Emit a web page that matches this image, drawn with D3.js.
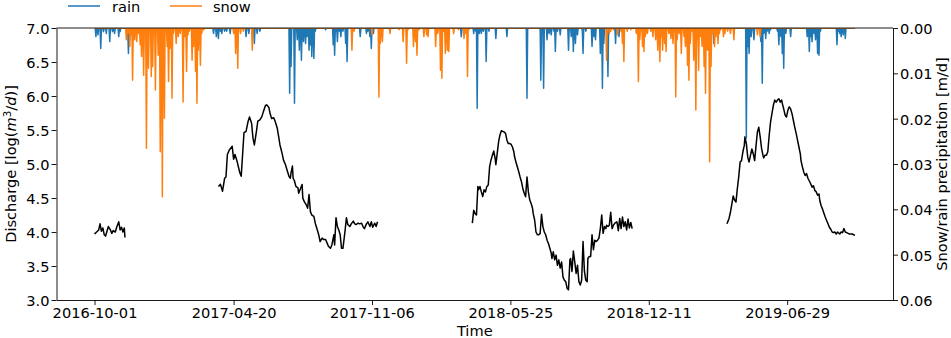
<!DOCTYPE html>
<html>
<head>
<meta charset="utf-8">
<script src="https://cdn.jsdelivr.net/npm/d3@7"></script>
<style>
body{margin:0;background:#fff}
svg{display:block;font-family:"DejaVu Sans",sans-serif}
</style>
</head>
<body>
<svg width="951" height="338"></svg>
<script>
// day offsets are counted from 2016-10-01
var startDate = new Date(Date.UTC(2016, 9, 1));
var nDays = 1100;

var xTickLabels = ['2016-10-01','2017-04-20','2017-11-06','2018-05-25','2018-12-11','2019-06-29'];
var leftTicks = [3.0,3.5,4.0,4.5,5.0,5.5,6.0,6.5,7.0];
var rightTicks = [0.00,0.01,0.02,0.03,0.04,0.05,0.06];

// discharge, log(m3/d), four pieces with gaps between
var q1Days = [0,1,3,6,8,10,12,14,16,18,20,23,25,27,30,32,35,37,39,41,43,44];
var q1Vals = [3.97,3.98,4.00,4.03,4.12,4.01,4.06,3.96,3.94,4.01,4.08,4.03,3.98,4.02,4.00,4.07,4.15,4.03,4.07,4.00,4.06,3.92];

var q2Days = [179,182,185,188,190,192,195,199,201,203,206,210,212,214,216,219,222,224,227,229,
231,234,236,239,242,244,247,249,252,254,256,259,261,264,266,268,271,273,276,278,
281,283,284,286,287,289,291,294,295,297,300,301,303,306,308,310,312,314,317,319,
322,324,326,329,331,334,336,338,341,343,346,347,349,351,353,355,357,359,362,364,
366,369,371,374,376,378,381,383,386,388,390,393,395,398,400,402,405,407,409];
var q2Vals = [4.67,4.70,4.60,4.79,4.81,5.14,5.21,5.26,5.07,5.14,5.04,4.87,4.82,5.14,5.46,5.48,5.63,5.69,5.60,5.38,
5.28,5.48,5.63,5.65,5.70,5.77,5.86,5.87,5.83,5.73,5.67,5.68,5.63,5.53,5.41,5.28,5.16,5.06,4.99,4.92,
4.82,4.79,4.87,4.97,4.79,4.75,4.67,4.65,4.57,4.62,4.70,4.50,4.45,4.40,4.35,4.55,4.30,4.25,4.23,4.13,
4.03,3.96,3.86,3.91,3.89,3.89,3.84,3.79,3.76,3.81,3.96,3.81,4.21,4.08,4.03,3.96,3.76,3.76,4.01,4.21,
4.11,4.08,4.12,4.16,4.12,4.11,4.13,4.12,4.13,4.08,4.05,4.12,4.15,4.08,4.15,4.07,4.13,4.08,4.15];

var q3Days = [546,548,550,552,554,555,557,559,561,563,565,567,569,571,573,575,577,579,580,582,
584,586,588,590,592,594,596,598,600,602,604,606,607,609,611,613,615,617,619,621,
623,625,627,629,631,633,634,636,638,640,642,644,646,648,650,652,654,656,658,660,
661,663,665,667,669,671,673,675,677,679,681,683,685,687,688,690,692,694,696,698,
700,702,704,706,708,710,712,713,715,717,719,721,723,725,727,729,731,733,735,737,
739,740,742,744,746,748,750,752,755,757,759,761,763,765,767,769,771,773,775,777];
var q3Vals = [4.13,4.32,4.27,4.25,4.67,4.62,4.67,4.59,4.52,4.62,4.59,4.67,4.69,4.96,5.06,5.13,5.19,5.08,4.99,5.16,
5.33,5.43,5.49,5.48,5.47,5.45,5.35,5.30,5.30,5.29,5.25,5.18,5.11,5.03,4.96,4.89,4.81,4.74,4.64,4.57,
4.52,4.81,4.59,4.47,4.42,4.35,4.27,4.18,4.00,3.96,3.96,3.98,4.26,4.08,4.00,3.96,3.88,3.83,3.76,3.69,
3.61,3.71,3.59,3.66,3.51,3.59,3.47,3.56,3.34,3.29,3.27,3.17,3.15,3.59,3.61,3.42,3.72,3.56,3.39,3.51,
3.27,3.22,3.29,3.86,3.42,3.29,3.27,3.61,3.64,3.64,3.96,3.74,3.88,3.86,3.88,3.91,4.05,4.25,3.98,4.08,
4.05,4.10,4.08,4.10,4.29,4.05,4.10,4.13,4.15,4.02,4.20,4.05,4.22,4.08,4.15,4.03,4.19,4.06,4.14,4.05];

var q4Days = [914,917,919,922,923,925,927,929,931,933,935,937,939,940,942,944,946,948,950,952,
954,956,958,960,962,964,966,967,969,971,973,975,977,979,981,983,985,987,989,991,
993,994,996,998,1000,1002,1004,1006,1008,1010,1012,1014,1016,1018,1020,1021,1023,1025,1027,1029,
1031,1033,1035,1037,1039,1041,1043,1045,1047,1048,1050,1052,1054,1056,1058,1060,1062,1064,1066,1068,
1070,1072,1074,1075,1077,1079,1081,1083,1085,1087,1089,1091,1093,1095,1097,1099];
var q4Vals = [4.12,4.20,4.29,4.47,4.53,4.47,4.44,4.64,4.81,5.03,5.05,5.18,5.27,5.40,5.30,5.10,5.03,5.13,5.22,5.15,
5.05,5.27,5.47,5.54,5.40,5.23,5.13,5.09,5.13,5.13,5.18,5.42,5.62,5.74,5.86,5.94,5.91,5.94,5.96,5.91,
5.94,5.89,5.81,5.72,5.69,5.79,5.84,5.81,5.74,5.64,5.54,5.45,5.35,5.25,5.15,5.05,4.96,4.88,4.83,4.86,
4.79,4.75,4.71,4.66,4.68,4.61,4.59,4.54,4.56,4.47,4.39,4.34,4.28,4.22,4.17,4.12,4.07,4.04,4.00,3.99,
4.00,3.97,4.00,3.99,3.97,4.00,3.99,4.05,4.00,3.99,3.98,3.97,3.97,3.97,3.96,3.95];

// precipitation in m/d, [day, value]; every other day is 0
var rain = [[2,0.0019],[5,0.0015],[9,0.0045],[13,0.0008],[17,0.0012],[22,0.0030],[26,0.0008],[29,0.0012],[35,0.0019],[37,0.0008],[49,0.0056],
[172,0.0012],[176,0.0019],[179,0.0023],[182,0.0007],[184,0.0012],[188,0.0007],[191,0.0007],[196,0.0012],[219,0.0019],[223,0.0012],[231,0.0034],[235,0.0012],[239,0.0007],
[282,0.0144],[284,0.0085],[289,0.0166],[293,0.0026],[296,0.0049],[299,0.0071],[302,0.0030],[305,0.0034],[307,0.0019],[310,0.0049],[312,0.0037],[314,0.0063],[317,0.0067],[319,0.0007],
[334,0.0004],[345,0.0037],[347,0.0060],[349,0.0007],[351,0.0030],[354,0.0007],[356,0.0019],[359,0.0007],[363,0.0034],[365,0.0074],[384,0.0019],[393,0.0012],[395,0.0007],[398,0.0019],[400,0.0045],[403,0.0012],
[530,0.0019],[548,0.0012],[551,0.0007],[553,0.0177],[556,0.0012],[559,0.0012],[562,0.0007],[566,0.0074],[570,0.0007],[580,0.0023],[596,0.0019],[625,0.0155],[645,0.0115],[649,0.0133],[654,0.0026],
[657,0.0012],[660,0.0015],[664,0.0007],[666,0.0052],[669,0.0007],[673,0.0015],[685,0.0049],[689,0.0019],[692,0.0052],[695,0.0034],[698,0.0015],[705,0.0007],[706,0.0056],[710,0.0007],[719,0.0041],
[722,0.0019],[724,0.0026],[731,0.0056],[734,0.0133],[736,0.0034],[742,0.0107],[753,0.0034],[758,0.0019],
[890,0.0007],[895,0.0034],[900,0.0012],[942,0.0243],[944,0.0041],[946,0.0056],[949,0.0019],[953,0.0026],[963,0.0030],[965,0.0122],
[967,0.0012],[970,0.0023],[972,0.0007],[975,0.0012],[977,0.0004],[987,0.0007],[989,0.0037],[992,0.0019],[994,0.0056],[996,0.0089],
[999,0.0012],[1006,0.0019],[1030,0.0019],[1033,0.0052],[1035,0.0019],[1037,0.0030],[1040,0.0012],[1042,0.0026],[1045,0.0056],[1047,0.0060],
[1049,0.0007],[1073,0.0037],[1075,0.0007],[1077,0.0012],[1079,0.0019],[1082,0.0015],[1085,0.0023]];

var snow = [[46,0.0026],[48,0.0012],[51,0.0041],[53,0.0015],[55,0.0115],[58,0.0026],[61,0.0030],[64,0.0012],[66,0.0037],[68,0.0063],
[71,0.0104],[75,0.0265],[78,0.0089],[82,0.0107],[84,0.0085],[88,0.0137],[92,0.0060],[95,0.0273],[98,0.0372],[101,0.0199],
[105,0.0041],[107,0.0118],[109,0.0045],[112,0.0155],[114,0.0012],[118,0.0034],[121,0.0019],[124,0.0012],[128,0.0163],[130,0.0019],
[133,0.0096],[135,0.0015],[137,0.0007],[141,0.0071],[143,0.0041],[146,0.0096],[148,0.0166],[150,0.0049],[153,0.0082],[155,0.0012],[158,0.0004],
[201,0.0012],[204,0.0056],[207,0.0089],[211,0.0012],[215,0.0007],[228,0.0049],
[372,0.0049],[375,0.0007],[401,0.0015],[411,0.0152],[413,0.0034],[416,0.0030],[427,0.0012],[440,0.0004],[446,0.0030],[451,0.0078],
[453,0.0004],[461,0.0041],[464,0.0030],[466,0.0060],[469,0.0004],[476,0.0019],[480,0.0015],[482,0.0019],[493,0.0041],[496,0.0012],
[500,0.0093],[502,0.0111],[505,0.0007],[507,0.0056],[510,0.0049],[512,0.0052],[519,0.0012],[526,0.0004],[534,0.0023],[536,0.0012],[539,0.0107],[541,0.0004],
[740,0.0071],[744,0.0012],[746,0.0007],[750,0.0004],[756,0.0015],[761,0.0007],[763,0.0034],[765,0.0074],[770,0.0007],[775,0.0004],
[783,0.0012],[786,0.0118],[788,0.0026],[792,0.0041],[794,0.0052],[796,0.0019],[799,0.0012],[804,0.0007],[807,0.0019],[811,0.0026],
[814,0.0049],[817,0.0074],[819,0.0019],[821,0.0049],[824,0.0034],[826,0.0052],[830,0.0012],[833,0.0023],[836,0.0034],[840,0.0152],
[842,0.0026],[845,0.0012],[848,0.0056],[852,0.0019],[854,0.0041],[857,0.0082],[859,0.0115],[861,0.0034],[864,0.0007],[866,0.0071],
[869,0.0181],[871,0.0026],[873,0.0093],[876,0.0019],[878,0.0041],[881,0.0085],[883,0.0144],[886,0.0049],[889,0.0295],[891,0.0085],
[893,0.0012],[896,0.0041],[898,0.0019],[901,0.0034],[903,0.0012],[905,0.0004],[909,0.0019],[911,0.0012],[915,0.0007],[919,0.0012],
[924,0.0026],[958,0.0015],[962,0.0019]];

var blue = '#1f77b4', orange = '#ff7f0e';
var fs = '14.6px';

function dayDate(d){ return new Date(startDate.getTime() + d*864e5); }

var svg = d3.select('svg');
var L = 56.5, R = 893, T = 28, B = 300;

var pad = 0.05*(nDays-1);
var x = d3.scaleUtc().domain([dayDate(-pad), dayDate(nDays-1+pad)]).range([L, R]);
var yQ = d3.scaleLinear().domain([3, 7]).range([B, T]);
var yP = d3.scaleLinear().domain([0, 0.06]).range([T, B]);

svg.append('clipPath').attr('id','clip').append('rect')
  .attr('x',L).attr('y',T).attr('width',R-L).attr('height',B-T);
var plot = svg.append('g').attr('clip-path','url(#clip)');

// discharge
var qLine = d3.line().x(function(d){return x(dayDate(d[0]));}).y(function(d){return yQ(d[1]);});
[[q1Days,q1Vals],[q2Days,q2Vals],[q3Days,q3Vals],[q4Days,q4Vals]].forEach(function(s){
  plot.append('path').datum(d3.zip(s[0], s[1]))
    .attr('d', qLine).attr('fill','none').attr('stroke','#000').attr('stroke-width',1.5)
    .attr('stroke-linejoin','round');
});

// precipitation, one value per day
function daily(list){
  var arr = d3.range(nDays).map(function(){return 0;});
  list.forEach(function(p){ arr[p[0]] = p[1]; });
  return arr;
}
var pLine = d3.line().x(function(d,i){return x(dayDate(i));}).y(function(d){return yP(d);});
plot.append('path').datum(daily(rain)).attr('d',pLine).attr('fill','none')
  .attr('stroke',blue).attr('stroke-width',1.5).attr('stroke-linejoin','round');
plot.append('path').datum(daily(snow)).attr('d',pLine).attr('fill','none')
  .attr('stroke',orange).attr('stroke-width',1.5).attr('stroke-linejoin','round');

// axes
var parse = d3.utcParse('%Y-%m-%d');
var gx = svg.append('g').attr('transform','translate(0,'+B+')')
  .call(d3.axisBottom(x).tickValues(xTickLabels.map(parse)).tickFormat(d3.utcFormat('%Y-%m-%d'))
    .tickSize(5).tickSizeOuter(0).tickPadding(2.5));
var gl = svg.append('g').attr('transform','translate('+L+',0)')
  .call(d3.axisLeft(yQ).tickValues(leftTicks).tickFormat(d3.format('.1f'))
    .tickSize(5).tickSizeOuter(0).tickPadding(2));
var gr = svg.append('g').attr('transform','translate('+R+',0)')
  .call(d3.axisRight(yP).tickValues(rightTicks).tickFormat(d3.format('.2f'))
    .tickSize(5).tickSizeOuter(0).tickPadding(2));
[gx,gl,gr].forEach(function(g){
  g.selectAll('text').attr('font-size',fs).attr('font-family','DejaVu Sans').attr('fill','#000');
  g.selectAll('line').attr('stroke','#000').attr('stroke-width',0.9);
  g.select('.domain').attr('stroke','#000').attr('stroke-width',0.9);
});
gl.selectAll('text').attr('dy','0.38em');
gr.selectAll('text').attr('dy','0.38em');
svg.append('line').attr('x1',L).attr('x2',R).attr('y1',T).attr('y2',T)
  .attr('stroke','#000').attr('stroke-width',0.9);

// labels
svg.append('text').attr('x',(L+R)/2).attr('y',336).attr('text-anchor','middle')
  .attr('font-size',fs).text('Time');

var yl = svg.append('text').attr('transform','translate(15.5,'+((T+B)/2)+') rotate(-90)')
  .attr('text-anchor','middle').attr('font-size',fs);
yl.append('tspan').text('Discharge [log(');
yl.append('tspan').attr('font-style','italic').text('m');
yl.append('tspan').attr('font-size','10.2px').attr('dy','-5').text('3');
yl.append('tspan').attr('dy','5').text('/');
yl.append('tspan').attr('font-style','italic').text('d');
yl.append('tspan').text(')]');

svg.append('text').attr('transform','translate(947,'+((T+B)/2)+') rotate(-90)')
  .attr('text-anchor','middle').attr('font-size',fs).text('Snow/rain precipitation [m/d]');

// legend
var legend = [['rain',blue,68,112],['snow',orange,170,213]];
legend.forEach(function(l){
  svg.append('line').attr('x1',l[2]).attr('x2',l[2]+32).attr('y1',6).attr('y2',6)
    .attr('stroke',l[1]).attr('stroke-width',1.5);
  svg.append('text').attr('x',l[3]).attr('y',11.5).attr('font-size',fs).text(l[0]);
});
</script>
</body>
</html>
